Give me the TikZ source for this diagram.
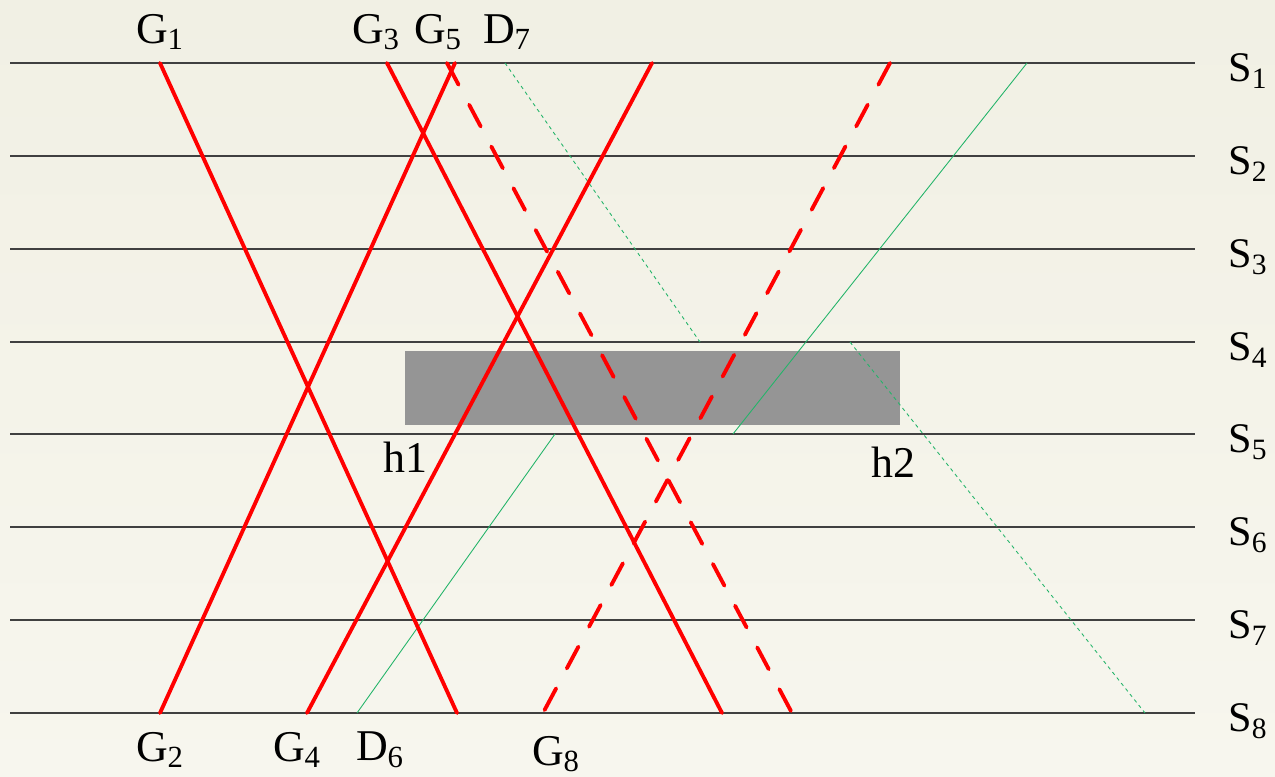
\documentclass[tikz,border=0pt]{standalone}
\usepackage{fontspec}
\setmainfont{Liberation Serif}
\usepackage{tikz}
\usetikzlibrary{positioning,calc}
\definecolor{bgtop}{RGB}{241,240,228}
\definecolor{bgbot}{RGB}{247,246,238}
\definecolor{boxgray}{RGB}{149,149,149}
\definecolor{raygreen}{RGB}{35,180,105}

\begin{document}
\begin{tikzpicture}[
  x=0.02cm,y=-0.02cm,
  rail/.style={draw=black!75,line width=0.8pt},
  ray/.style={draw=red,line width=2.2pt,line cap=round},
  rayd/.style={ray,dash pattern=on 14pt off 12.9pt},
  wave/.style={draw=raygreen,line width=0.5pt},
  waved/.style={wave,dash pattern=on 2pt off 2pt},
  lab/.style={inner sep=0pt,font=\fontsize{25}{30}\selectfont},
  slab/.style={inner sep=0pt,anchor=west,font=\fontsize{24}{28}\selectfont}]
  \fill[top color=bgtop,bottom color=bgbot] (0,0) rectangle (1275,777);
  \useasboundingbox (0,0) rectangle (1275,777);
  % stations
  \foreach \i/\y in {1/63,2/156,3/249,4/342,5/434,6/527,7/620,8/713}{
    \coordinate (l\i) at (10,\y);
    \coordinate (r\i) at (1195,\y);
    \draw[rail] (l\i) -- (r\i);
    \node[slab] (s\i) at (1228,\y+8) {S\textsubscript{\i}};
  }
  % obstacle
  \fill[boxgray] (405,351) rectangle (900,425);
  \node[lab] (h1) at (405,457) {h1};
  \node[lab] (h2) at (893,462) {h2};
  % end points
  \coordinate (g1) at (160,63);
  \coordinate (g2) at (160,713);
  \coordinate (g3) at (387,63);
  \coordinate (g4) at (307,713);
  \coordinate (g5) at (455,63);
  \coordinate (g5d) at (447,63);
  \coordinate (g8) at (543,713);
  \coordinate (a1) at (457,713);
  \coordinate (a3) at (722,713);
  \coordinate (a4) at (652,63);
  \coordinate (a5) at (792,713);
  \coordinate (a8) at (890,63);
  \coordinate (d6) at (357,713);
  \coordinate (d6a) at (555,434);
  \coordinate (d6b) at (733,434);
  \coordinate (d6c) at (1027,63);
  \coordinate (d7) at (505,63);
  \coordinate (d7a) at (700,342);
  \coordinate (d7b) at (850,342);
  \coordinate (d7c) at (1145,713);
  % green rays
  \draw[wave] (d6) -- (d6a);
  \draw[wave] (d6b) -- (d6c);
  \draw[waved] (d7) -- (d7a);
  \draw[waved] (d7b) -- (d7c);
  % red rays
  \draw[ray] (g1) -- (a1);
  \draw[ray] (g2) -- (g5);
  \draw[ray] (g3) -- (a3);
  \draw[ray] (g4) -- (a4);
  \draw[rayd] (g5d) -- (a5);
  \draw[rayd] (a8) -- (g8);
  % labels
  \node[lab] (G1) at (160,32) {G\textsubscript{1}};
  \node[lab] (G3) at (376,32) {G\textsubscript{3}};
  \node[lab] (G5) at (438,32) {G\textsubscript{5}};
  \node[lab] (D7) at (507,32) {D\textsubscript{7}};
  \node[lab] (G2) at (160,750) {G\textsubscript{2}};
  \node[lab] (G4) at (297,750) {G\textsubscript{4}};
  \node[lab] (D6) at (380,750) {D\textsubscript{6}};
  \node[lab] (G8) at (556,754) {G\textsubscript{8}};
\end{tikzpicture}
\end{document}
